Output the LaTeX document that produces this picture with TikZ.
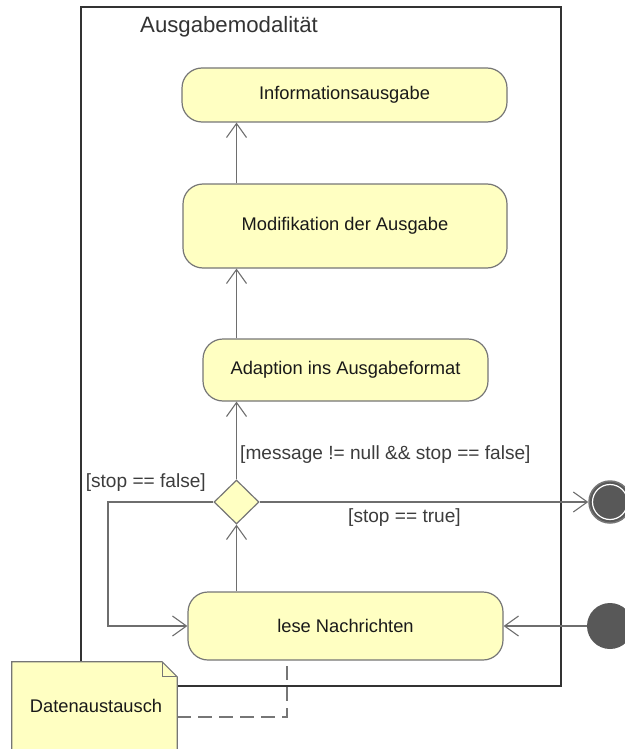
\documentclass[tikz,border=0pt]{standalone}
\usepackage{fontspec}
\setmainfont{Liberation Sans}
\usetikzlibrary{arrows.meta,shapes.geometric}

\definecolor{actfill}{RGB}{255,255,194}
\definecolor{actline}{RGB}{118,118,118}
\definecolor{flow}{RGB}{110,110,110}
\definecolor{guardtxt}{RGB}{60,60,60}
\definecolor{nodetxt}{RGB}{25,25,25}
\definecolor{dot}{RGB}{88,88,88}

\tikzset{
  action/.style={draw=actline, fill=actfill, rounded corners=20pt, line width=1.2pt,
    text=nodetxt, font=\fontsize{18.3}{22}\selectfont, inner sep=0pt},
  decision/.style={diamond, draw=actline, fill=actfill, line width=1.2pt,
    minimum width=45pt, minimum height=44pt, inner sep=0pt, aspect=1},
  flowarrow/.style={draw=flow, line width=1.3pt,
    -{Straight Barb[length=14pt,width=20pt,line width=1.1pt]}},
  guard/.style={text=guardtxt, font=\fontsize{19.1}{23}\selectfont, inner sep=0pt},
  frame/.style={draw=black!80, line width=1.5pt},
}

\begin{document}
\begin{tikzpicture}[x=1pt, y=-1pt]
  \useasboundingbox (0,0) rectangle (624,749);

  % activity frame and its name
  \draw[frame] (81,7) rectangle (561,686);
  \node[anchor=west, inner sep=0pt, text=black!80,
        font=\fontsize{22.2}{26}\selectfont] (title) at (140,27) {Ausgabemodalität};

  % actions
  \node[action, minimum width=325pt, minimum height=54pt] (info)  at (344.5,95)  {Informationsausgabe};
  \node[action, minimum width=324pt, minimum height=84pt] (modif) at (345,226)   {Modifikation der Ausgabe};
  \node[action, minimum width=285pt, minimum height=62pt] (adapt) at (345.5,370) {Adaption ins Ausgabeformat};
  \node[action, minimum width=315pt, minimum height=68pt] (lese)  at (345.5,626) {lese Nachrichten};

  % decision
  \node[decision] (dec) at (236.5,502) {};

  % initial and final nodes
  \node[circle, fill=dot, minimum size=46pt, inner sep=0pt] (init) at (610,626) {};
  \node[circle, fill=dot, draw=actline, line width=1.5pt, minimum size=42pt, inner sep=0pt] (final) at (610,502) {};
  \draw[white, line width=1.2pt] (final.center) circle[radius=17.5pt];

  % control flows
  \draw[flowarrow] (init) -- (lese.east);
  \draw[flowarrow] (lese.north -| dec.south) -- (dec.south);
  \draw[flowarrow] (dec.north) -- (adapt.south -| dec.north);
  \draw[flowarrow] (adapt.north -| dec.north) -- (modif.south -| dec.north);
  \draw[flowarrow] (modif.north -| dec.north) -- (info.south -| dec.north);
  \draw[flowarrow] (dec.east) -- (final.west);
  \coordinate (loop) at (108,502);
  \draw[flowarrow] (dec.west) -- (loop) |- (lese.west);

  % guards
  \node[guard, anchor=west] (g1) at (240,455) {[message != null \&\& stop == false]};
  \node[guard, anchor=east] (g2) at (206,483) {[stop == false]};
  \node[guard, anchor=west] (g3) at (348,518) {[stop == true]};

  % note with folded corner
  \node[minimum width=165pt, minimum height=90pt, inner sep=0pt, text=nodetxt,
        font=\fontsize{18.3}{22}\selectfont] (note) at (94.5,707) {};
  \fill[actfill] (note.north west) -- ([xshift=-15pt]note.north east)
    -- ([yshift=-15pt]note.north east) -- (note.south east) -- (note.south west) -- cycle;
  \draw[actline, line width=1.2pt] (note.south west) -- (note.north west)
    -- ([xshift=-15pt]note.north east) -- ([yshift=-15pt]note.north east) -- (note.south east);
  \draw[actline, line width=1.2pt] ([xshift=-15pt]note.north east)
    -- ([xshift=-15pt,yshift=-15pt]note.north east) -- ([yshift=-15pt]note.north east);
  \node[text=nodetxt, font=\fontsize{18.3}{22}\selectfont, inner sep=0pt] (notetext) at (96,706) {Datenaustausch};

  % note attachment
  \coordinate (attach) at (287,717);
  \draw[actline, line width=1.2pt, dash pattern=on 14pt off 7pt]
    (note.east |- attach) -- (attach) -- (lese.south -| attach);
\end{tikzpicture}
\end{document}
